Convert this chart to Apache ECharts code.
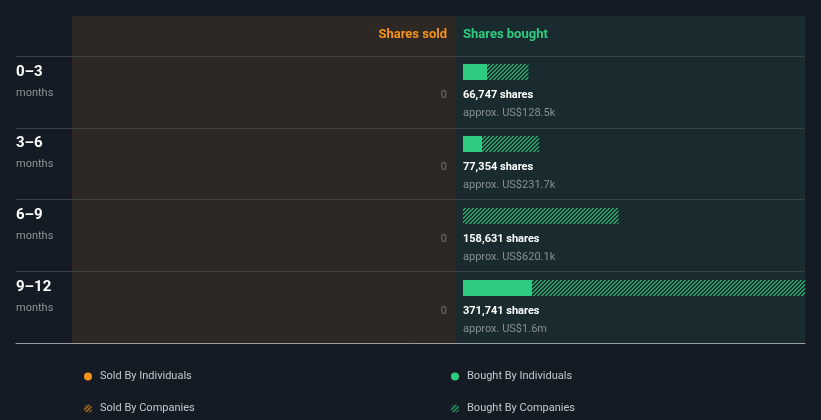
<!DOCTYPE html>
<html>
<head>
<meta charset="utf-8">
<script src="https://cdn.jsdelivr.net/npm/echarts@6/dist/echarts.min.js"></script>
<style>
html,body{margin:0;padding:0;background:#151b25;}
#c{width:821px;height:420px;}
</style>
</head>
<body>
<div id="c"></div>
<script>
// ---- data ----
var categories = ['0–3', '3–6', '6–9', '9–12'];
var boughtTotal = [66747, 77354, 158631, 371741];
var boughtIndividuals = [24500, 19400, 0, 70400];
var boughtCompanies = [42247, 57954, 158631, 301341];
var boughtValueLabels = ['approx. US$128.5k', 'approx. US$231.7k', 'approx. US$620.1k', 'approx. US$1.6m'];
var soldTotal = [0, 0, 0, 0];
var soldIndividuals = [0, 0, 0, 0];
var soldCompanies = [0, 0, 0, 0];
var axisMax = 349000;

function hatch(color) {
  var c = document.createElement('canvas');
  c.width = 4; c.height = 4;
  var ctx = c.getContext('2d');
  ctx.fillStyle = color;
  for (var x = 0; x < 4; x++) for (var y = 0; y < 4; y++) {
    var m = (x + y) % 4;
    if (m === 0 || m === 1) ctx.fillRect(x, y, 1, 1);
  }
  return { image: c, repeat: 'repeat' };
}

var GREEN = '#2ecc80', ORANGE = '#f7931a';
var greenHatch = hatch('#26a066');
var orangeHatch = hatch('#c0761a');

function fmt(n) { return n.toLocaleString('en-US'); }

var chart = echarts.init(document.getElementById('c'), null, { renderer: 'canvas' });
var font = 'Roboto, "Noto Sans", sans-serif';

chart.setOption({
  backgroundColor: '#151b25',
  animation: false,
  textStyle: { fontFamily: font },
  graphic: [
    { type: 'rect', z: -10, shape: { x: 72, y: 16, width: 383, height: 327 }, style: { fill: '#2d2823' } },
    { type: 'rect', z: -10, shape: { x: 455, y: 16, width: 350, height: 327 }, style: { fill: '#192b2e' } }
  ],
  title: [
    { text: 'Shares sold', right: 374, top: 27, padding: 0,
      textStyle: { fontSize: 13, fontWeight: 'bold', color: ORANGE, fontFamily: font, lineHeight: 15 } },
    { text: 'Shares bought', left: 463, top: 27, padding: 0,
      textStyle: { fontSize: 13, fontWeight: 'bold', color: GREEN, fontFamily: font, lineHeight: 15 } }
  ],
  legend: [
    { left: 84, top: 371, orient: 'vertical', itemGap: 21, padding: 0, itemWidth: 8, itemHeight: 8,
      icon: 'circle', selectedMode: false,
      textStyle: { color: '#c5c8cc', fontSize: 11, fontFamily: font, padding: [0, 0, 0, 3] },
      data: ['Sold By Individuals', 'Sold By Companies'] },
    { left: 451, top: 371, orient: 'vertical', itemGap: 21, padding: 0, itemWidth: 8, itemHeight: 8,
      icon: 'circle', selectedMode: false,
      textStyle: { color: '#c5c8cc', fontSize: 11, fontFamily: font, padding: [0, 0, 0, 3] },
      data: ['Bought By Individuals', 'Bought By Companies'] }
  ],
  grid: [
    { left: 16, right: 16, top: 56, height: 287 },     // separators + row labels
    { left: 72, right: 374, top: 36, height: 288 },    // sold
    { left: 463, right: 16, top: 36, height: 288 }     // bought
  ],
  xAxis: [
    { gridIndex: 0, type: 'value', min: 0, max: 1,
      axisLine: { show: true, lineStyle: { color: '#9a9ea3', width: 1 } },
      axisLabel: { show: false }, axisTick: { show: false }, splitLine: { show: false } },
    { gridIndex: 1, type: 'value', min: 0, max: axisMax, inverse: true, show: false },
    { gridIndex: 2, type: 'value', min: 0, max: axisMax, show: false }
  ],
  yAxis: [
    { gridIndex: 0, type: 'category', data: categories, inverse: true,
      axisLine: { show: false }, axisTick: { show: false },
      splitLine: { show: true, lineStyle: { color: '#3c4146', width: 1 } },
      axisLabel: {
        inside: true, margin: 0, align: 'left', padding: [0, 0, 18, 0],
        formatter: function (v) { return '{a|' + v + '}\n{b|months}'; },
        rich: {
          a: { fontSize: 15, fontWeight: 'bold', color: '#ffffff', lineHeight: 20, fontFamily: font },
          b: { fontSize: 11, color: '#8e9297', lineHeight: 22, fontFamily: font }
        }
      } },
    { gridIndex: 1, type: 'category', data: categories, inverse: true, show: false },
    { gridIndex: 2, type: 'category', data: categories, inverse: true, show: false }
  ],
  series: [
    { name: 'Sold By Individuals', type: 'bar', xAxisIndex: 1, yAxisIndex: 1, stack: 'sold',
      barWidth: 16, data: soldIndividuals, itemStyle: { color: ORANGE } },
    { name: 'Sold By Companies', type: 'bar', xAxisIndex: 1, yAxisIndex: 1, stack: 'sold',
      barWidth: 16, data: soldCompanies, itemStyle: { color: orangeHatch } },
    { name: 'soldTotal', type: 'bar', xAxisIndex: 1, yAxisIndex: 1, barWidth: 16, barGap: '-100%',
      data: soldTotal, itemStyle: { color: 'rgba(0,0,0,0)' }, silent: true,
      label: { show: true, position: [0, 26], align: 'right', verticalAlign: 'top',
        color: '#6c7076', fontSize: 11, fontFamily: font, formatter: function (p) { return fmt(p.value); } } },
    { name: 'Bought By Individuals', type: 'bar', xAxisIndex: 2, yAxisIndex: 2, stack: 'bought',
      barWidth: 16, data: boughtIndividuals, itemStyle: { color: GREEN } },
    { name: 'Bought By Companies', type: 'bar', xAxisIndex: 2, yAxisIndex: 2, stack: 'bought',
      barWidth: 16, data: boughtCompanies, itemStyle: { color: greenHatch } },
    { name: 'boughtTotal', type: 'bar', xAxisIndex: 2, yAxisIndex: 2, barWidth: 16, barGap: '-100%',
      data: boughtTotal, itemStyle: { color: 'rgba(0,0,0,0)' }, silent: true,
      label: { show: true, position: [0, 22], align: 'left', verticalAlign: 'top',
        formatter: function (p) {
          return '{a|' + fmt(p.value) + ' shares}\n{b|' + boughtValueLabels[p.dataIndex] + '}';
        },
        rich: {
          a: { fontSize: 11, fontWeight: 'bold', color: '#ffffff', lineHeight: 18, fontFamily: font },
          b: { fontSize: 11, color: '#8a8f94', lineHeight: 18, fontFamily: font }
        } } }
  ]
});
</script>
</body>
</html>
